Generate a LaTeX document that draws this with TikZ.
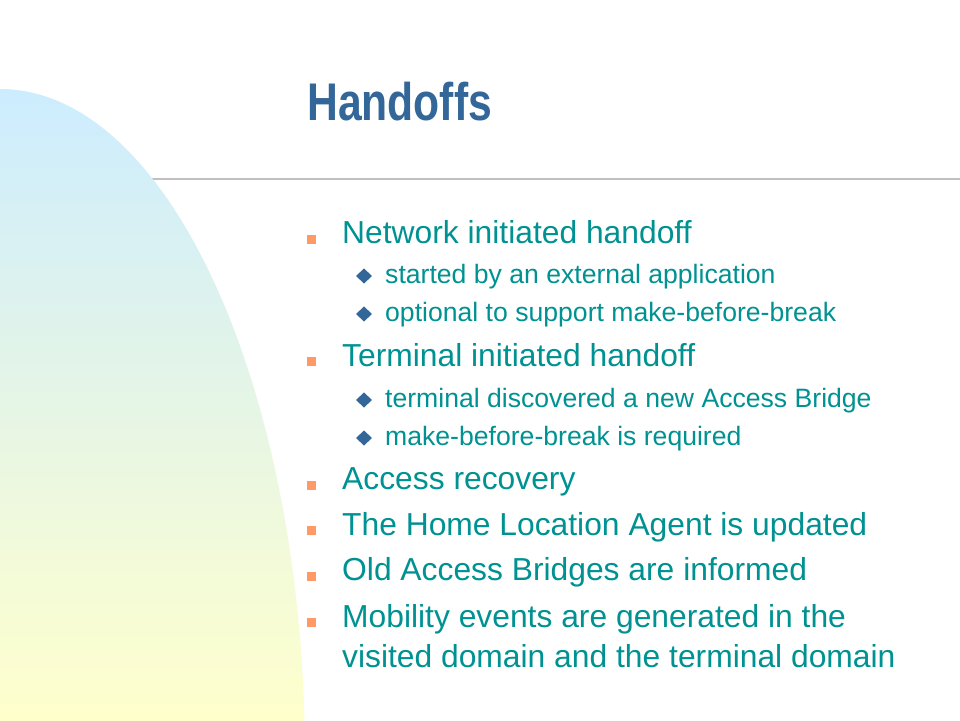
\documentclass[tikz,border=0pt]{standalone}
\usepackage{fontspec}
\setmainfont{Liberation Sans}
\usepackage{xcolor}
\definecolor{titleblue}{RGB}{51,102,153}
\definecolor{itemteal}{RGB}{0,146,146}
\definecolor{sqorange}{RGB}{255,153,102}
\definecolor{skyblue}{RGB}{204,236,255}
\definecolor{paleyellow}{RGB}{255,255,204}
\definecolor{rulegray}{RGB}{192,192,192}

\begin{document}
\begin{tikzpicture}[x=1pt,y=-1pt,
    mainitem/.style={anchor=base west,inner sep=0pt,text=itemteal,font=\fontsize{31.8}{38}\selectfont},
    subitem/.style={anchor=base west,inner sep=0pt,text=itemteal,font=\fontsize{26.6}{32}\selectfont},
    sqbullet/.style={fill=sqorange},
    dmbullet/.style={fill=titleblue}]
    \useasboundingbox (0,0) rectangle (960,720);
    \fill[white] (0,0) rectangle (960,720);
    \draw[rulegray,line width=1.5pt] (150,179) -- (960,179);
    % left backdrop
    \begin{scope}
        \clip (0,760) ellipse [x radius=305,y radius=671];
        \shade[top color=skyblue,bottom color=paleyellow] (0,85) rectangle (310,720);
    \end{scope}
    \node[anchor=base west,inner sep=0pt,text=titleblue,font=\fontsize{53}{60}\selectfont\bfseries] (title) at (307,120) {\scalebox{0.805}[1]{Handoffs}};
    % items
    \node[mainitem] (net) at (342,243.5) {Network initiated handoff};
    \node[subitem] (net1) at (385,283) {started by an external application};
    \node[subitem] (net2) at (385,321) {optional to support make-before-break};
    \node[mainitem] (term) at (342,366) {Terminal initiated handoff};
    \node[subitem] (term1) at (385,407) {terminal discovered a new Access Bridge};
    \node[subitem] (term2) at (385,445) {make-before-break is required};
    \node[mainitem] (rec) at (342,489.5) {Access recovery};
    \node[mainitem] (home) at (342,535) {The Home Location Agent is updated};
    \node[mainitem] (old) at (342,580.7) {Old Access Bridges are informed};
    \node[mainitem] (mob) at (342,627) {Mobility events are generated in the};
    \node[mainitem] (mobb) at (342,667) {visited domain and the terminal domain};
    % bullets
    \fill[sqbullet] (307,234.5) rectangle (316,243.5);
    \fill[sqbullet] (307,357) rectangle (316,366);
    \fill[sqbullet] (307,480.5) rectangle (316,489.5);
    \fill[sqbullet] (307,526) rectangle (316,535);
    \fill[sqbullet] (307,571.7) rectangle (316,580.7);
    \fill[sqbullet] (307,618) rectangle (316,627);
    \fill[dmbullet] (364,268.5) -- (372,276) -- (364,283.5) -- (356,276) -- cycle;
    \fill[dmbullet] (364,306.5) -- (372,314) -- (364,321.5) -- (356,314) -- cycle;
    \fill[dmbullet] (364,392.5) -- (372,400) -- (364,407.5) -- (356,400) -- cycle;
    \fill[dmbullet] (364,430.5) -- (372,438) -- (364,445.5) -- (356,438) -- cycle;
\end{tikzpicture}
\end{document}
